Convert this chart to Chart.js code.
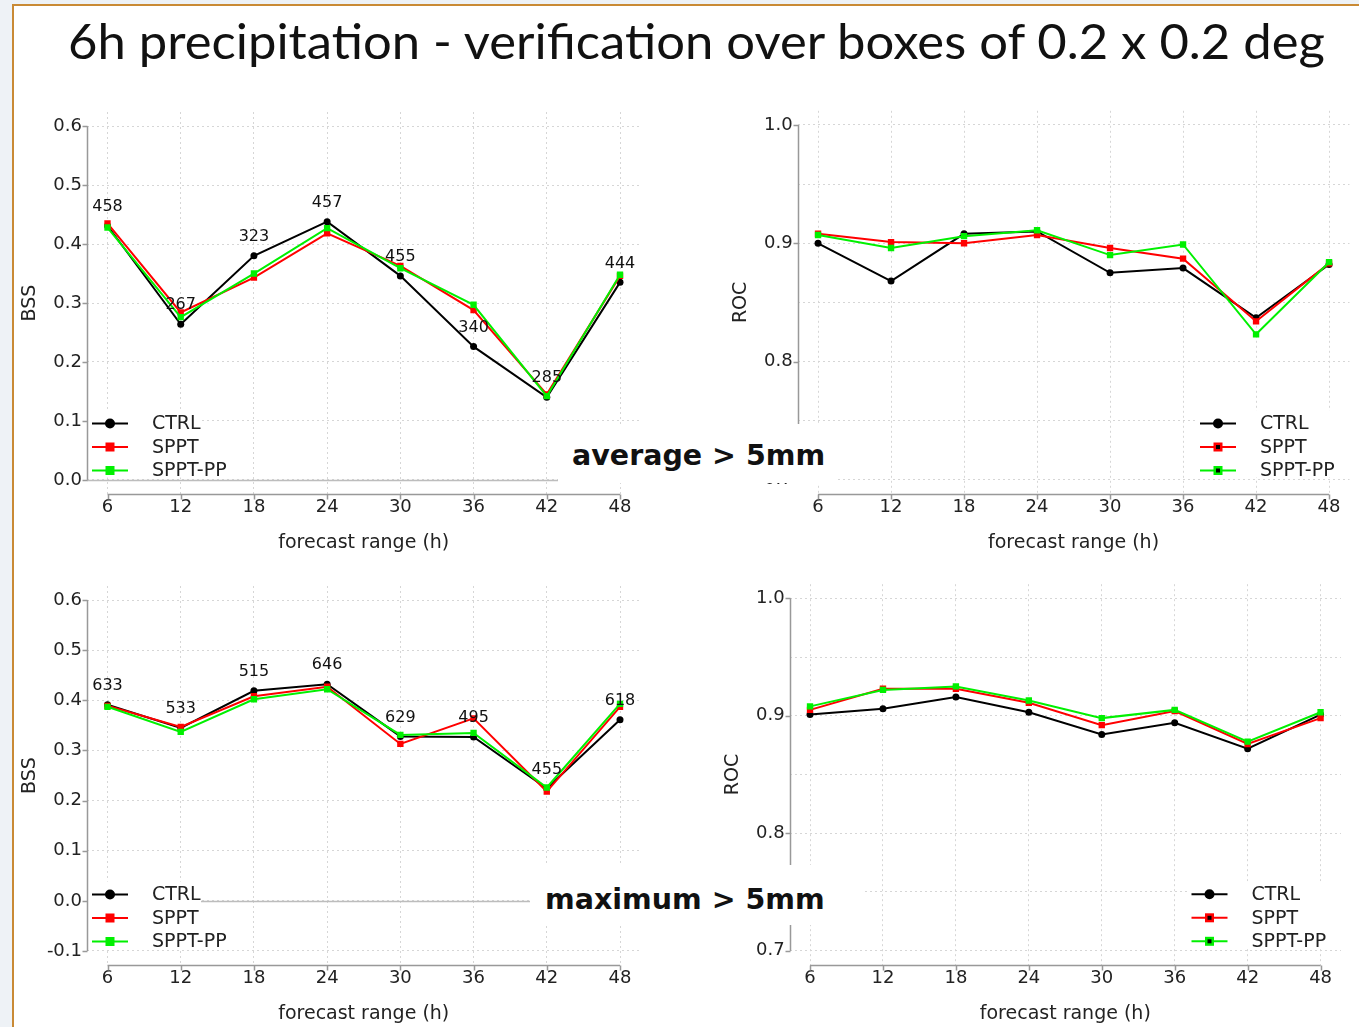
<!DOCTYPE html>
<html>
<head>
<meta charset="utf-8">
<title>6h precipitation - verification</title>
<script src="https://cdn.jsdelivr.net/npm/chart.js@4.4.1/dist/chart.umd.min.js"></script>
<style>
	html, body { margin: 0; padding: 0; }
	body { width: 1359px; height: 1027px; overflow: hidden; background: #eef2f6; position: relative; }
	#slide { position: absolute; left: 12px; top: 4px; width: 1400px; height: 1021px; background: #fff; border-left: 2px solid #c98a35; border-top: 2px solid #c98a35; }
	canvas, .blank, .tag, #title { position: absolute; }
	#title { left: 68px; top: 16px; font-family: Lato, sans-serif; font-size: 49px; line-height: 1; color: #111; white-space: nowrap; transform-origin: 0 0; }
	.blank { background: #fff; }
	.tag { font-family: "DejaVu Sans", sans-serif; font-weight: bold; font-size: 28.5px; line-height: 1; color: #111; white-space: nowrap; }
</style>
</head>
<body>
<div id="slide"></div>
<div id="title">6h precipitation - verification over boxes of 0.2 x 0.2 deg</div>
<canvas id="bssAvg"></canvas>
<canvas id="rocAvg"></canvas>
<canvas id="bssMax"></canvas>
<canvas id="rocMax"></canvas>
<div class="blank" style="left:558px; top:424px; width:277px; height:59px;"></div>
<div class="tag" style="left:572px; top:442px;">average &gt; 5mm</div>
<div class="blank" style="left:530px; top:865px; width:332px; height:60px;"></div>
<div class="tag" style="left:545px; top:886px;">maximum &gt; 5mm</div>

<script>

var hours = [6, 12, 18, 24, 30, 36, 42, 48];
var seriesNames = ["CTRL", "SPPT", "SPPT-PP"];
var seriesColors = ["#000000", "#ff0000", "#00f000"];

// average > 5mm
var bssAvgCtrl   = [0.431, 0.264, 0.380, 0.438, 0.346, 0.226, 0.140, 0.335];
var bssAvgSppt   = [0.435, 0.284, 0.343, 0.418, 0.363, 0.288, 0.145, 0.346];
var bssAvgSpptPp = [0.428, 0.276, 0.350, 0.427, 0.359, 0.297, 0.142, 0.348];
var countsAvg    = [458, 267, 323, 457, 455, 340, 285, 444];

var rocAvgCtrl   = [0.900, 0.868, 0.908, 0.910, 0.875, 0.879, 0.837, 0.882];
var rocAvgSppt   = [0.908, 0.901, 0.900, 0.907, 0.896, 0.887, 0.834, 0.883];
var rocAvgSpptPp = [0.907, 0.896, 0.906, 0.911, 0.890, 0.899, 0.823, 0.884];

// maximum > 5mm
var bssMaxCtrl   = [0.391, 0.345, 0.419, 0.432, 0.328, 0.327, 0.224, 0.361];
var bssMaxSppt   = [0.389, 0.347, 0.408, 0.427, 0.313, 0.364, 0.218, 0.387];
var bssMaxSpptPp = [0.387, 0.337, 0.402, 0.422, 0.331, 0.335, 0.226, 0.393];
var countsMax    = [633, 533, 515, 646, 629, 495, 455, 618];

var rocMaxCtrl   = [0.901, 0.906, 0.916, 0.903, 0.884, 0.894, 0.872, 0.901];
var rocMaxSppt   = [0.905, 0.923, 0.923, 0.911, 0.892, 0.904, 0.876, 0.898];
var rocMaxSpptPp = [0.908, 0.922, 0.925, 0.913, 0.898, 0.905, 0.878, 0.903];

// tick labels / grid lines
var bssTicksAvg = [0, 0.1, 0.2, 0.3, 0.4, 0.5, 0.6];
var bssTicksMax = [-0.1, 0, 0.1, 0.2, 0.3, 0.4, 0.5, 0.6];
var rocTicks    = [0.7, 0.75, 0.8, 0.85, 0.9, 0.95, 1.0];

var FONT = '"DejaVu Sans", sans-serif';

function isLabelled(v) {
	return Math.abs(v * 10 - Math.round(v * 10)) < 1e-6;
}

// R-like axes, legend and count labels
var rStylePlugin = {
	id: 'rstyle',

	beforeDatasetsDraw: function(chart, args, o) {
		if (!o.zeroLine) return;
		var ctx = chart.ctx, a = chart.chartArea;
		var y = Math.round(chart.scales.y.getPixelForValue(0)) + 0.5;
		ctx.save();
		ctx.strokeStyle = '#bdbdbd';
		ctx.lineWidth = 1.5;
		ctx.beginPath();
		ctx.moveTo(a.left, y);
		ctx.lineTo(a.right, y);
		ctx.stroke();
		ctx.restore();
	},

	afterDatasetsDraw: function(chart, args, o) {
		var ctx = chart.ctx, a = chart.chartArea;
		ctx.save();

		if (o.counts) {
			var pts = chart.getDatasetMeta(0).data;
			ctx.font = '16px ' + FONT;
			ctx.fillStyle = '#111';
			ctx.textAlign = 'center';
			ctx.textBaseline = 'middle';
			for (var i = 0; i < pts.length; i++)
				ctx.fillText(String(o.counts[i]), pts[i].x, pts[i].y - 19);
		}

		// legend (R draws its white box a bit narrower than the text)
		var left = o.legendSide == 'left';
		var lx = left ? a.left + 5 : a.right - 149.5;
		var tx = lx + 60;
		var y0 = a.bottom - 70.5;
		var boxL = left ? lx - 4 : lx - 3;
		var boxR = left ? lx + 109 : lx + 150;
		ctx.fillStyle = '#fff';
		ctx.fillRect(boxL, y0 - 13, boxR - boxL, 23.5 * 2 + 20);

		ctx.font = '19px ' + FONT;
		ctx.textAlign = 'left';
		ctx.textBaseline = 'middle';
		for (var j = 0; j < seriesNames.length; j++) {
			var y = y0 + j * 23.5;
			var c = seriesColors[j];
			ctx.strokeStyle = c;
			ctx.fillStyle = c;
			ctx.lineWidth = 2;
			ctx.beginPath();
			ctx.moveTo(lx, y);
			ctx.lineTo(lx + 36, y);
			ctx.stroke();
			if (j == 0) {
				ctx.beginPath();
				ctx.arc(lx + 18, y, 5, 0, Math.PI * 2);
				ctx.fill();
			} else {
				ctx.fillRect(lx + 18 - 4.5, y - 4.5, 9, 9);
				if (o.dotted) {
					ctx.fillStyle = '#000';
					ctx.fillRect(lx + 18 - 2, y - 2, 4, 4);
				}
			}
			ctx.fillStyle = '#222';
			ctx.fillText(seriesNames[j], tx, y + 1);
		}
		ctx.restore();
	},

	afterDraw: function(chart, args, o) {
		var ctx = chart.ctx, a = chart.chartArea;
		var xs = chart.scales.x, ys = chart.scales.y;
		var labelled = o.yTicks.filter(isLabelled);
		var left = Math.round(a.left) + 0.5;
		var bottom = Math.round(a.bottom) + 0.5;

		ctx.save();
		ctx.strokeStyle = '#999';
		ctx.lineWidth = 1.5;
		ctx.beginPath();
		ctx.moveTo(left, ys.getPixelForValue(labelled[0]));
		ctx.lineTo(left, ys.getPixelForValue(labelled[labelled.length - 1]));
		labelled.forEach(function(v) {
			var py = Math.round(ys.getPixelForValue(v)) + 0.5;
			ctx.moveTo(left, py);
			ctx.lineTo(left - 5, py);
		});
		ctx.moveTo(xs.getPixelForValue(hours[0]), bottom);
		ctx.lineTo(xs.getPixelForValue(hours[hours.length - 1]), bottom);
		hours.forEach(function(h) {
			var px = Math.round(xs.getPixelForValue(h)) + 0.5;
			ctx.moveTo(px, bottom);
			ctx.lineTo(px, bottom + 5);
		});
		ctx.stroke();

		ctx.fillStyle = '#222';
		ctx.font = '19px ' + FONT;
		ctx.textAlign = 'center';
		ctx.textBaseline = 'middle';
		ctx.fillText('forecast range (h)', xs.getPixelForValue((hours[0] + hours[hours.length - 1]) / 2), a.bottom + 49);
		ctx.translate(a.left - 57, (a.top + a.bottom) / 2);
		ctx.rotate(-Math.PI / 2);
		ctx.fillText(o.yTitle, 0, 0);
		ctx.restore();
	}
};

function VerifPanel(elem, opts) {

	var self = this;

	this.elem = elem;
	this.opts = opts;
	this.chart;

	this.place = function() {
		var f = self.opts.frame;
		self.elem.width = f.w;
		self.elem.height = f.h;
		self.elem.style.left = f.left + 'px';
		self.elem.style.top = f.top + 'px';
		self.elem.style.width = f.w + 'px';
		self.elem.style.height = f.h + 'px';
	}

	this.dataset = function(values, i) {
		return {
			label: seriesNames[i],
			data: hours.map(function(h, k) { return {x: h, y: values[k]}; }),
			borderColor: seriesColors[i],
			backgroundColor: seriesColors[i],
			borderWidth: 2,
			pointStyle: i == 0 ? 'circle' : 'rect',
			pointRadius: i == 0 ? 3.5 : 4.5,
			pointBorderWidth: 0,
			tension: 0,
			order: 3 - i
		};
	}

	this.render = function() {
		var f = self.opts.frame, b = self.opts.area;
		self.place();

		if (self.chart !== undefined)
			self.chart.destroy();

		self.chart = new Chart(self.elem.getContext("2d"), {
			type: 'line',
			data: {
				datasets: self.opts.series.map(self.dataset)
			},
			options: {
				responsive: false,
				animation: false,
				devicePixelRatio: 1,
				layout: { padding: { top: b.t - f.top, right: f.left + f.w - b.r, bottom: 0, left: 0 } },
				plugins: {
					legend: { display: false },
					tooltip: { enabled: false },
					rstyle: {
						counts: self.opts.counts,
						zeroLine: self.opts.zeroLine,
						legendSide: self.opts.legendSide,
						dotted: self.opts.dotted,
						yTicks: self.opts.yTicks,
						yTitle: self.opts.yTitle
					}
				},
				scales: {
					x: {
						type: 'linear',
						min: 4.32,
						max: 49.68,
						afterBuildTicks: function(s) { s.ticks = hours.map(function(v) { return {value: v}; }); },
						afterFit: function(s) { s.height = f.top + f.h - b.b; },
						grid: { color: '#d6d6d6', lineWidth: 1, drawTicks: false },
						border: { display: false, dash: [2, 3] },
						ticks: { color: '#222', font: { family: FONT, size: 18 }, padding: 3, maxRotation: 0,
							callback: function(v) { return String(v); } }
					},
					y: {
						type: 'linear',
						min: self.opts.yMin,
						max: self.opts.yMax,
						afterBuildTicks: function(s) { s.ticks = self.opts.yTicks.map(function(v) { return {value: v}; }); },
						afterFit: function(s) { s.width = b.l - f.left; },
						grid: { color: '#d6d6d6', lineWidth: 1, drawTicks: false },
						border: { display: false, dash: [2, 3] },
						ticks: { color: '#222', font: { family: FONT, size: 18 }, padding: 5,
							callback: function(v) { return isLabelled(v) ? v.toFixed(1) : ''; } }
					}
				}
			},
			plugins: [rStylePlugin]
		});
	}
}

var panels = [
	new VerifPanel(document.getElementById('bssAvg'), {
		frame: {left: 13, top: 90, w: 667, h: 470},
		area: {l: 87, t: 112, r: 640.5, b: 494},
		series: [bssAvgCtrl, bssAvgSppt, bssAvgSpptPp],
		counts: countsAvg, zeroLine: true, legendSide: 'left', dotted: false,
		yTicks: bssTicksAvg, yMin: -0.024, yMax: 0.624, yTitle: 'BSS'
	}),
	new VerifPanel(document.getElementById('rocAvg'), {
		frame: {left: 690, top: 90, w: 669, h: 470},
		area: {l: 797.6, t: 110.8, r: 1349.5, b: 494},
		series: [rocAvgCtrl, rocAvgSppt, rocAvgSpptPp],
		counts: null, zeroLine: false, legendSide: 'right', dotted: true,
		yTicks: rocTicks, yMin: 0.688, yMax: 1.012, yTitle: 'ROC'
	}),
	new VerifPanel(document.getElementById('bssMax'), {
		frame: {left: 13, top: 560, w: 667, h: 467},
		area: {l: 87, t: 586, r: 640.5, b: 965},
		series: [bssMaxCtrl, bssMaxSppt, bssMaxSpptPp],
		counts: countsMax, zeroLine: true, legendSide: 'left', dotted: false,
		yTicks: bssTicksMax, yMin: -0.128, yMax: 0.628, yTitle: 'BSS'
	}),
	new VerifPanel(document.getElementById('rocMax'), {
		frame: {left: 690, top: 560, w: 669, h: 467},
		area: {l: 789.6, t: 584.2, r: 1341, b: 964.8},
		series: [rocMaxCtrl, rocMaxSppt, rocMaxSpptPp],
		counts: null, zeroLine: false, legendSide: 'right', dotted: true,
		yTicks: rocTicks, yMin: 0.688, yMax: 1.012, yTitle: 'ROC'
	})
];

panels.forEach(function(p) { p.render(); });

// stretch the title to the width it has on the slide
var title = document.getElementById('title');
title.style.transform = 'scaleX(' + (1257 / title.offsetWidth) + ')';

</script>
</body>
</html>
